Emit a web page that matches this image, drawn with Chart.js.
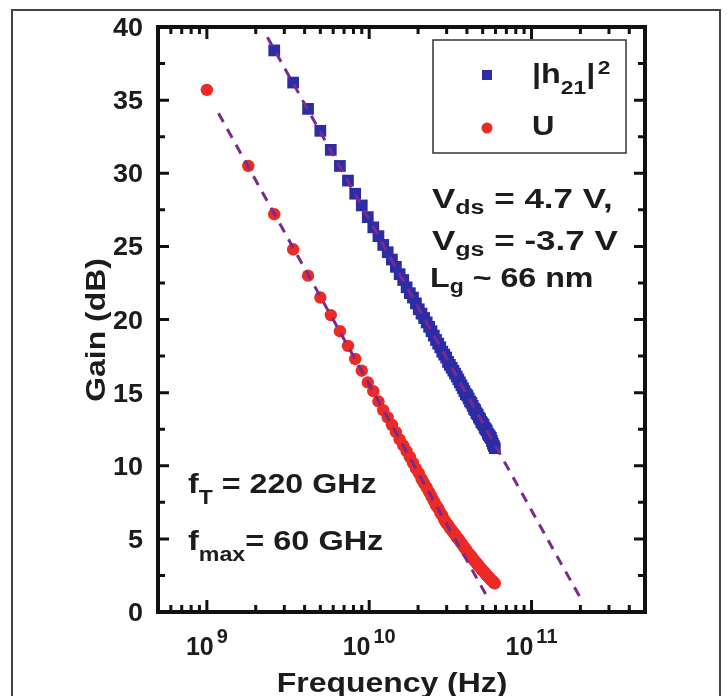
<!DOCTYPE html>
<html>
<head>
<meta charset="utf-8">
<script src="https://cdn.jsdelivr.net/npm/chart.js@4"></script>
<style>
  html, body { margin: 0; padding: 0; background: #fff; }
  #wrap { width: 727px; height: 696px; }
</style>
</head>
<body>
<div id="wrap"><canvas id="gain_chart"></canvas></div>
<script>
// frequency points in GHz (shared sweep)
const freqGHz = [
  1.0, 1.8, 2.6, 3.4, 4.2, 5.0, 5.8, 6.6, 7.4, 8.2, 9.0, 9.8, 10.6, 11.4, 12.2, 13.0,
  13.8, 14.6, 15.4, 16.2, 17.0, 17.8, 18.6, 19.4, 20.2, 21.0, 21.8, 22.6, 23.4, 24.2, 25.0, 25.8,
  26.6, 27.4, 28.2, 29.0, 29.8, 30.6, 31.4, 32.2, 33.0, 33.8, 34.6, 35.4, 36.2, 37.0, 37.8, 38.6,
  39.4, 40.2, 41.0, 41.8, 42.6, 43.4, 44.2, 45.0, 45.8, 46.6, 47.4, 48.2, 49.0, 49.8, 50.6, 51.4,
  52.2, 53.0, 53.8, 54.6, 55.4, 56.2, 57.0, 57.8, 58.6, 59.4
]

// |h21|^2 in dB (first two points are above 40 dB, off the plot)
const h21Gain = [
  null, null, 38.4, 36.2, 34.4, 32.9, 31.6, 30.5, 29.5, 28.6, 27.8, 27.0, 26.3, 25.7, 25.1, 24.6,
  24.1, 23.6, 23.1, 22.7, 22.2, 21.8, 21.5, 21.1, 20.7, 20.4, 20.1, 19.8, 19.5, 19.2, 18.9, 18.6,
  18.35, 18.1, 17.8, 17.6, 17.4, 17.1, 16.9, 16.7, 16.5, 16.3, 16.1, 15.9, 15.7, 15.5, 15.3, 15.1,
  14.9, 14.8, 14.6, 14.4, 14.3, 14.1, 13.9, 13.8, 13.6, 13.5, 13.3, 13.2, 13.0, 12.9, 12.8, 12.6,
  12.5, 12.4, 12.2, 12.1, 12.0, 11.9, 11.7, 11.5, 11.35, 11.2
]

// U in dB
const uGain = [
  35.7, 30.5, 27.2, 24.8, 23.0, 21.5, 20.3, 19.2, 18.2, 17.3, 16.5, 15.7, 15.1, 14.4, 13.8, 13.3,
  12.8, 12.3, 11.8, 11.4, 11.0, 10.6, 10.2, 9.8, 9.5, 9.1, 8.8, 8.5, 8.2, 7.9, 7.6, 7.3,
  7.1, 6.8, 6.6, 6.3, 6.1, 5.95, 5.75, 5.6, 5.45, 5.3, 5.1, 5.0, 4.85, 4.7, 4.55, 4.4,
  4.3, 4.1, 4.0, 3.9, 3.8, 3.65, 3.55, 3.45, 3.35, 3.25, 3.15, 3.05, 2.95, 2.85, 2.8, 2.7,
  2.6, 2.5, 2.45, 2.35, 2.3, 2.2, 2.15, 2.1, 2.0, 1.95
]

// -20 dB/dec extrapolation lines (endpoints)
const fTLineFreq = [2.36e9, 1.99e11]
const fTLineGain = [39.3, 1.0]
const fmaxLineFreq = [1.18e9, 5.41e10]
const fmaxLineGain = [34.1, 0.9]

// axes
const yTicks = [0, 5, 10, 15, 20, 25, 30, 35, 40]
const xTickExp = [9, 10, 11]
const X_MIN = 5e8
const X_MAX = 5e11

const COLORS = {
  blue: '#2b2ca6',
  red: '#ec2a26',
  purple: '#7a2a8c',
  ink: '#1c1c1c',
}

const FONT = '"Liberation Sans", Arial, Helvetica, sans-serif'

function toPoints(xs, ys, scale) {
  let pts = []
  for (let i = 0; i < xs.length; i++) {
    if (ys[i] == null) continue
    pts.push({ x: xs[i] * scale, y: ys[i] })
  }
  return pts
}

// draws text made of parts (normal / sub / sup), stretched horizontally
function richWidth(ctx, parts) {
  let w = 0
  for (const p of parts) {
    ctx.font = `bold ${p.size}px ${FONT}`
    w += ctx.measureText(p.t).width + (p.gap || 0)
  }
  return w
}

function richText(ctx, x, y, parts, sx, align) {
  ctx.save()
  ctx.translate(x, y)
  ctx.scale(sx, 1)
  let cx = 0
  if (align == 'center') cx = -richWidth(ctx, parts) / 2
  if (align == 'right') cx = -richWidth(ctx, parts)
  ctx.textBaseline = 'alphabetic'
  ctx.textAlign = 'left'
  ctx.fillStyle = COLORS.ink
  for (const p of parts) {
    cx += p.gap || 0
    ctx.font = `bold ${p.size}px ${FONT}`
    ctx.fillText(p.t, cx, p.dy || 0)
    cx += ctx.measureText(p.t).width
  }
  ctx.restore()
}

const framePlugin = {
  id: 'frame',
  beforeDraw(chart) {
    const ctx = chart.ctx
    ctx.save()
    ctx.fillStyle = '#fff'
    ctx.fillRect(0, 0, chart.width, chart.height)
    ctx.strokeStyle = '#444'
    ctx.lineWidth = 2
    ctx.strokeRect(12, 10, 708, 700)
    ctx.restore()
  },
  afterDraw(chart) {
    const ctx = chart.ctx
    const a = chart.chartArea
    const xs = chart.scales.x
    const ys = chart.scales.y
    ctx.save()

    // axis box
    ctx.strokeStyle = '#111'
    ctx.lineWidth = 4
    ctx.strokeRect(a.left, a.top, a.right - a.left, a.bottom - a.top)

    // y ticks, inward on both sides
    ctx.lineWidth = 3
    ctx.beginPath()
    for (let v = 0; v <= 40; v += 2.5) {
      const py = ys.getPixelForValue(v)
      const len = v % 5 == 0 ? 11 : 7
      ctx.moveTo(a.left, py)
      ctx.lineTo(a.left + len, py)
      ctx.moveTo(a.right, py)
      ctx.lineTo(a.right - len, py)
    }
    // x ticks (log), inward on bottom and top
    for (let d = 8; d <= 11; d++) {
      for (let m = 1; m <= 9; m++) {
        const f = m * Math.pow(10, d)
        if (f <= X_MIN || f >= X_MAX) continue
        const px = xs.getPixelForValue(f)
        const len = m == 1 ? 12 : 7
        ctx.moveTo(px, a.bottom)
        ctx.lineTo(px, a.bottom - len)
        ctx.moveTo(px, a.top)
        ctx.lineTo(px, a.top + len)
      }
    }
    ctx.stroke()

    // y tick labels
    for (const v of yTicks) {
      const py = ys.getPixelForValue(v)
      richText(ctx, 143, py + 9, [{ t: String(v), size: 25 }], 1.08, 'right')
    }
    // x tick labels 10^n
    for (const e of xTickExp) {
      const px = xs.getPixelForValue(Math.pow(10, e))
      richText(ctx, px, 655, [
        { t: '10', size: 25 },
        { t: String(e), size: 20, dy: -12, gap: 3 },
      ], 1.0, 'center')
    }

    // axis titles
    richText(ctx, 392, 692, [{ t: 'Frequency (Hz)', size: 28 }], 1.14, 'center')
    ctx.save()
    ctx.translate(105, 330)
    ctx.rotate(-Math.PI / 2)
    richText(ctx, 0, 0, [{ t: 'Gain (dB)', size: 28 }], 1.14, 'center')
    ctx.restore()

    // legend box
    ctx.fillStyle = '#fff'
    ctx.fillRect(433, 40, 193, 113)
    ctx.strokeStyle = '#333'
    ctx.lineWidth = 1.5
    ctx.strokeRect(433, 40, 193, 113)
    ctx.fillStyle = COLORS.blue
    ctx.fillRect(482, 70, 10, 10)
    ctx.fillStyle = COLORS.red
    ctx.beginPath()
    ctx.arc(487, 128, 5.5, 0, Math.PI * 2)
    ctx.fill()
    richText(ctx, 532, 83, [
      { t: '|h', size: 27 },
      { t: '21', size: 19, dy: 11 },
      { t: '|', size: 27 },
      { t: '2', size: 19, dy: -9, gap: 2 },
    ], 1.2)
    richText(ctx, 532, 135, [{ t: 'U', size: 27 }], 1.15)

    // bias / geometry notes
    richText(ctx, 432, 208, [
      { t: 'V', size: 28 },
      { t: 'ds', size: 20, dy: 6 },
      { t: ' = 4.7 V,', size: 28 },
    ], 1.25)
    richText(ctx, 432, 250, [
      { t: 'V', size: 28 },
      { t: 'gs', size: 20, dy: 6 },
      { t: ' = -3.7 V', size: 28 },
    ], 1.25)
    richText(ctx, 430, 287, [
      { t: 'L', size: 28 },
      { t: 'g', size: 20, dy: 6 },
      { t: ' ~ 66 nm', size: 28 },
    ], 1.15)

    richText(ctx, 188, 493, [
      { t: 'f', size: 28 },
      { t: 'T', size: 20, dy: 11 },
      { t: ' = 220 GHz', size: 28 },
    ], 1.15)
    richText(ctx, 188, 550, [
      { t: 'f', size: 28 },
      { t: 'max', size: 20, dy: 11 },
      { t: '= 60 GHz', size: 28 },
    ], 1.16)

    ctx.restore()
  },
}

let gain_chart_element

function build_gain_chart() {
  const canvas = document.getElementById('gain_chart')
  const config = {
    type: 'scatter',
    data: {
      datasets: [
        {
          label: 'fT fit',
          data: toPoints(fTLineFreq, fTLineGain, 1),
          showLine: true,
          borderColor: COLORS.purple,
          borderWidth: 3,
          borderDash: [10, 8],
          pointRadius: 0,
          order: 0,
        },
        {
          label: 'fmax fit',
          data: toPoints(fmaxLineFreq, fmaxLineGain, 1),
          showLine: true,
          borderColor: COLORS.purple,
          borderWidth: 3,
          borderDash: [10, 8],
          pointRadius: 0,
          order: 0,
        },
        {
          label: '|h21|^2',
          data: toPoints(freqGHz, h21Gain, 1e9),
          pointStyle: 'rect',
          pointRadius: 8.3,
          pointBorderWidth: 0,
          backgroundColor: COLORS.blue,
          borderColor: COLORS.blue,
          order: 1,
        },
        {
          label: 'U',
          data: toPoints(freqGHz, uGain, 1e9),
          pointStyle: 'circle',
          pointRadius: 6.2,
          pointBorderWidth: 0,
          backgroundColor: COLORS.red,
          borderColor: COLORS.red,
          order: 1,
        },
      ],
    },
    options: {
      responsive: false,
      animation: false,
      devicePixelRatio: 1,
      layout: { padding: { left: 158, right: 82, top: 27, bottom: 84 } },
      plugins: {
        legend: { display: false },
        tooltip: { enabled: false },
      },
      scales: {
        x: { type: 'logarithmic', min: X_MIN, max: X_MAX, display: false },
        y: { type: 'linear', min: 0, max: 40, display: false },
      },
    },
    plugins: [framePlugin],
  }
  if (gain_chart_element != undefined) gain_chart_element.destroy()
  gain_chart_element = new Chart(canvas, config)
}

const cv = document.getElementById('gain_chart')
cv.width = 727
cv.height = 696
build_gain_chart()
</script>
</body>
</html>
